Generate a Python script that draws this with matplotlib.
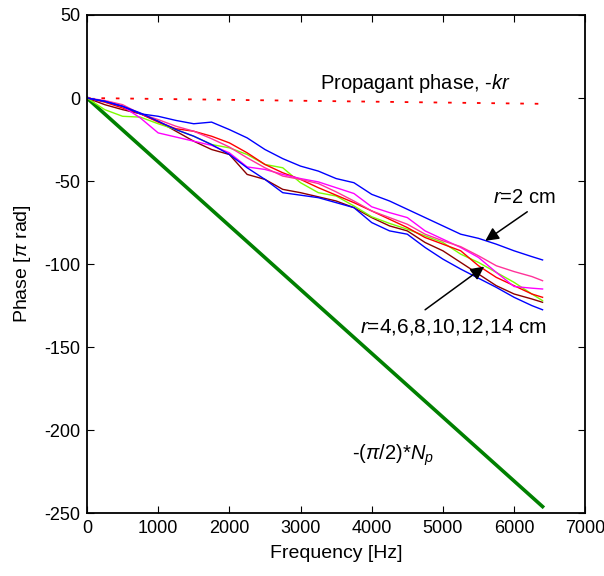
import matplotlib.pyplot as plt

plt.rcParams['font.family'] = ['Liberation Sans', 'DejaVu Sans']
plt.rcParams['axes.unicode_minus'] = False
plt.rcParams['mathtext.fontset'] = 'custom'
plt.rcParams['mathtext.rm'] = 'Liberation Sans'
plt.rcParams['mathtext.it'] = 'Liberation Sans:italic'

freq = [0, 250, 500, 750, 1000, 1250, 1500, 1750, 2000, 2250, 2500, 2750, 3000,
        3250, 3500, 3750, 4000, 4250, 4500, 4750, 5000, 5250, 5500, 5750, 6000,
        6250, 6400]

r2_blue = [0, -2, -5, -9.5, -11, -13.5, -15.5, -14.5, -19, -24, -31, -36.5, -41,
           -44, -48.5, -51, -58, -62, -67, -72, -77, -82, -84.5, -88, -92, -95.5, -97.5]
blue_low = [0, -2, -5, -9, -14, -19, -23, -28, -34, -42, -49, -57, -58.5,
            -60, -63, -66, -75, -80, -82, -90, -97, -103, -108.5, -114, -120, -125, -127.5]
brown = [0, -4, -7, -9.5, -14, -20, -26, -31, -34, -46, -49, -55, -57,
         -59.5, -62, -66, -72, -77, -80, -87, -92, -99, -106, -113, -118, -121, -123]
lime = [0, -7, -11, -11.5, -15.5, -19, -23, -28, -30, -34, -40, -42, -51,
        -57, -59, -65, -71.5, -75.5, -79, -83, -87, -94, -99, -105, -111, -118, -122]
red = [0, -2.5, -6, -9.5, -14.5, -18.5, -20, -23, -27, -33, -40, -45, -49,
       -54, -58.5, -63, -68, -73, -78, -84, -88, -92, -101, -108, -113, -118, -120]
magenta = [0, -2, -5, -12, -21, -23.5, -26, -28.5, -33, -41.5, -43, -46, -48.5,
           -50.5, -54, -57.5, -65.5, -69, -72, -80, -85, -90, -96, -105, -113.5, -114.5, -115]
pink = [0, -1.5, -4, -9.5, -13, -17, -20, -24.5, -29.5, -36, -42, -47, -49,
        -51.5, -56.5, -62, -68, -72, -76, -82, -86, -89.5, -95, -101, -104.5, -107.5, -110]

np_freq = [0, 1600, 3200, 4800, 6400]
np_phase = [0, -61.5, -123, -184.5, -246]

kr_freq = [0, 6400]
kr_phase = [0, -3.5]

fig = plt.figure(figsize=(6.04, 5.76), dpi=100)
ax = fig.add_axes([0.144, 0.109, 0.825, 0.865])

ax.plot(np_freq, np_phase, color='#008000', linewidth=2.6)
ax.plot(kr_freq, kr_phase, color='red', linewidth=1.3, linestyle=(0, (2, 6)))

ax.plot(freq, brown, color='#8b0000', linewidth=1)
ax.plot(freq, lime, color='#7cfc00', linewidth=1)
ax.plot(freq, red, color='#ff0000', linewidth=1)
ax.plot(freq, magenta, color='#ff00ff', linewidth=1)
ax.plot(freq, pink, color='#ff3399', linewidth=1)
ax.plot(freq, blue_low, color='#0000ff', linewidth=1)
ax.plot(freq, r2_blue, color='#0000ff', linewidth=1)

ax.set_xlim(0, 7000)
ax.set_ylim(-250, 50)
ax.set_xticks(range(0, 7001, 1000))
ax.set_yticks(range(-250, 51, 50))
ax.tick_params(direction='in', top=True, right=True, labelsize=13, length=5)
ax.tick_params(axis='x', pad=5)
ax.tick_params(axis='y', pad=5)
for s in ax.spines.values():
    s.set_linewidth(1.3)

ax.set_xlabel('Frequency [Hz]', fontsize=14, labelpad=6)
ax.set_ylabel('Phase [$\\pi$ rad]', fontsize=14, labelpad=8)

ax.text(3280, 9, 'Propagant phase, -$\\it{kr}$', fontsize=14.5, va='center')

ax.text(5710, -60, '$\\it{r}$=2 cm', fontsize=14.5, va='center')
ax.annotate('', xy=(5595, -86), xytext=(6185, -68.5),
            arrowprops=dict(arrowstyle='-|>', color='black', lw=1.1,
                            mutation_scale=20, shrinkA=0, shrinkB=0))

ax.text(3840, -138, '$\\it{r}$=4,6,8,10,12,14 cm', fontsize=15, va='center')
ax.annotate('', xy=(5580, -101.5), xytext=(4750, -127.5),
            arrowprops=dict(arrowstyle='-|>', color='black', lw=1.1,
                            mutation_scale=20, shrinkA=0, shrinkB=0))

ax.text(3720, -215, '-($\\pi$/2)*$\\it{N_p}$', fontsize=14.5, va='center')

fig.savefig('out.png', dpi=100)
